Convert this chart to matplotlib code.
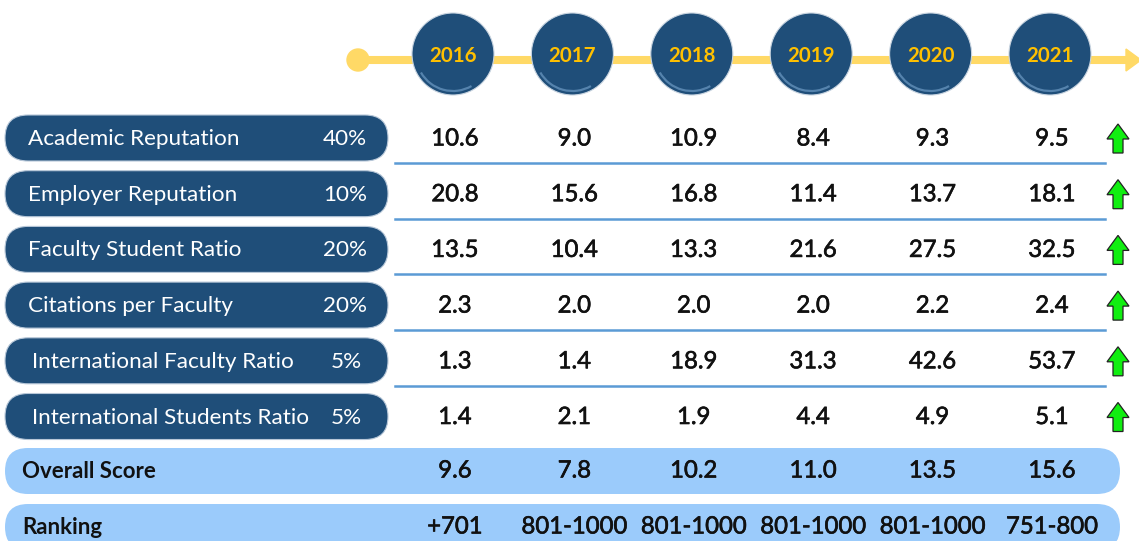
import matplotlib
matplotlib.use("Agg")
import matplotlib.pyplot as plt
import matplotlib.patheffects as pe
from matplotlib.patches import FancyBboxPatch, Circle, Polygon, Arc

plt.rcParams['font.family'] = ['Lato', 'DejaVu Sans']

# data
years = ['2016', '2017', '2018', '2019', '2020', '2021']
criteria = ['Academic Reputation', 'Employer Reputation', 'Faculty Student Ratio',
            'Citations per Faculty', 'International Faculty Ratio',
            'International Students Ratio']
weights = ['40%', '10%', '20%', '20%', '5%', '5%']
scores = [
    [10.6, 9.0, 10.9, 8.4, 9.3, 9.5],
    [20.8, 15.6, 16.8, 11.4, 13.7, 18.1],
    [13.5, 10.4, 13.3, 21.6, 27.5, 32.5],
    [2.3, 2.0, 2.0, 2.0, 2.2, 2.4],
    [1.3, 1.4, 18.9, 31.3, 42.6, 53.7],
    [1.4, 2.1, 1.9, 4.4, 4.9, 5.1],
]
overall = [9.6, 7.8, 10.2, 11.0, 13.5, 15.6]
ranking = ['+701', '801-1000', '801-1000', '801-1000', '801-1000', '751-800']

# colours
dark = '#1F4E79'
light = '#9BCBFB'
yellow = '#FFD966'
gold = '#FFC000'
sep = '#5B9BD5'

W, H = 1139, 541
fig = plt.figure(figsize=(W / 100, H / 100), dpi=100)
ax = fig.add_axes([0, 0, 1, 1])
ax.set_xlim(0, W)
ax.set_ylim(H, 0)
ax.axis('off')

# layout
col_x0, col_dx = 453, 119.4
row_y0, row_dy = 138, 55.7
pill_h = 46
thick = [pe.withStroke(linewidth=0.45, foreground='#111111')]

# timeline
ty = 60
ax.plot([358, 1128], [ty, ty], color=yellow, lw=5.8, solid_capstyle='butt', zorder=1)
ax.add_patch(Circle((358, ty), 11, color=yellow, zorder=2))
ax.add_patch(Polygon([[1126, ty - 11], [1141, ty], [1126, ty + 11]], closed=True,
                     color=yellow, zorder=2))

for i, yr in enumerate(years):
    cx = col_x0 + i * col_dx
    ax.add_patch(Circle((cx, 54), 41, facecolor=dark, edgecolor='#c8d4e0', lw=0.8, zorder=3))
    ax.add_patch(Arc((cx, 54), 74, 74, theta1=60, theta2=150, color='#5583ad',
                     lw=1.6, zorder=4))
    ax.text(cx, 56, yr, color=gold, fontsize=14.8, fontweight='bold',
            ha='center', va='center', zorder=5)

# criteria rows
for r, (name, w) in enumerate(zip(criteria, weights)):
    y = row_y0 + r * row_dy
    ax.add_patch(FancyBboxPatch((5, y - pill_h / 2), 383, pill_h,
                                boxstyle='round,pad=0,rounding_size=23',
                                facecolor=dark, edgecolor='#b7c7d8', lw=0.8, zorder=2))
    tx = 28 if r < 4 else 32
    ax.text(tx, y + 1, name, color='white', fontsize=16.2, ha='left', va='center', zorder=3)
    wx = 367 if r < 4 else 362
    ax.text(wx, y + 1, w, color='white', fontsize=16.2, ha='right', va='center', zorder=3)
    for c, v in enumerate(scores[r]):
        ax.text(col_x0 + 2 + c * col_dx, y + 1, f'{v:.1f}', color='#111111', fontsize=17.2,
                ha='center', va='center', zorder=3, path_effects=thick)
    if r < 5:
        ax.plot([395, 1105], [y + 25, y + 25], color=sep, lw=1.8, zorder=2)
    # green up arrow
    ax_ = 1118
    arrow = [[ax_ - 11, y + 1], [ax_, y - 14], [ax_ + 11, y + 1], [ax_ + 5, y + 1],
             [ax_ + 5, y + 15], [ax_ - 5, y + 15], [ax_ - 5, y + 1]]
    ax.add_patch(Polygon(arrow, closed=True, facecolor='#11EE11', edgecolor='#222222',
                         lw=0.9, zorder=3))

# overall score and ranking bars
for yc, label, vals in [(471, 'Overall Score', [f'{v:.1f}' for v in overall]),
                        (527, 'Ranking', ranking)]:
    ax.add_patch(FancyBboxPatch((5, yc - 23), 1115, 46,
                                boxstyle='round,pad=0,rounding_size=23',
                                facecolor=light, edgecolor='none', zorder=2))
    ax.text(22, yc, label, color='#111111', fontsize=16, fontweight='bold',
            ha='left', va='center', zorder=3)
    for c, v in enumerate(vals):
        ax.text(col_x0 + 2 + c * col_dx, yc, v, color='#111111', fontsize=17.2,
                ha='center', va='center', zorder=3, path_effects=thick)

fig.savefig('out.png', dpi=100)
